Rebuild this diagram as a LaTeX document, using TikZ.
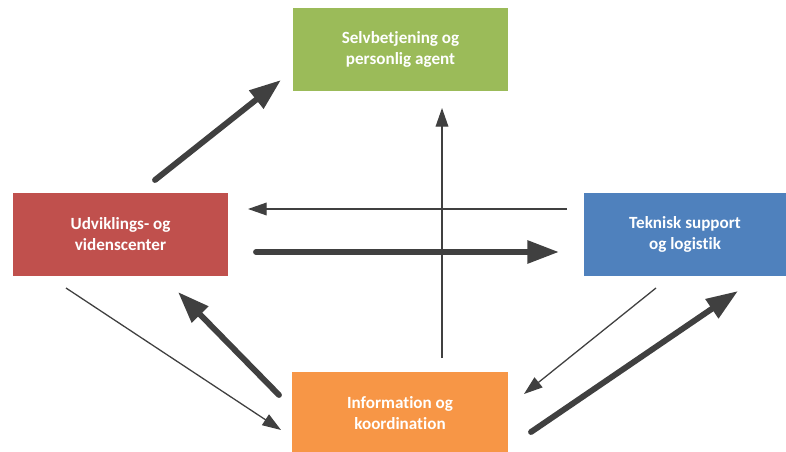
\documentclass[tikz,border=0pt]{standalone}
\usepackage{fontspec}
\setmainfont{Carlito}[Ligatures=NoCommon]
\usetikzlibrary{arrows.meta, positioning}

\definecolor{boxgreen}{HTML}{9BBB59}
\definecolor{boxred}{HTML}{C0504D}
\definecolor{boxblue}{HTML}{4F81BD}
\definecolor{boxorange}{HTML}{F79646}
\definecolor{arrgray}{HTML}{404040}

\begin{document}
\begin{tikzpicture}[
    x=0.03cm, y=-0.03cm,
    nd/.style={rectangle, minimum height=2.49cm, minimum width=6.45cm, inner sep=2pt,
        align=center, text=white, font=\fontsize{14.6}{18}\selectfont\bfseries},
    thinarr/.style={-{Triangle[length=0.56cm, width=0.38cm]}, line width=1.1pt, arrgray},
    thickarr/.style={-{Triangle[length=0.95cm, width=0.66cm]}, line width=5pt, arrgray, line cap=round},
]
\useasboundingbox (0,0) rectangle (786,452);

% Boxes
\node[nd, fill=boxgreen] (self) at (400.5, 49.5) {Selvbetjening og\\personlig agent};
\node[nd, fill=boxred] (udv) at (120.5, 234.5) {Udviklings- og\\videnscenter};
\node[nd, fill=boxblue, minimum width=6.06cm] (tek) at (685, 234.5) {Teknisk support\\og logistik};
\node[nd, fill=boxorange] (info) at (400, 413.5) {Information og\\koordination};

% Arrow end points
\coordinate (a1s) at (155, 180);
\coordinate (a1e) at (281, 80);
\coordinate (a2s) at (442, 358);
\coordinate (a2e) at (442, 108);
\coordinate (a3s) at (567, 209);
\coordinate (a3e) at (248, 209);
\coordinate (a4s) at (256, 252);
\coordinate (a4e) at (559, 252);
\coordinate (a5s) at (66, 288);
\coordinate (a5e) at (281, 430);
\coordinate (a6s) at (279, 395);
\coordinate (a6e) at (178, 292);
\coordinate (a7s) at (656, 288);
\coordinate (a7e) at (524, 394);
\coordinate (a8s) at (531, 432);
\coordinate (a8e) at (738, 291);

% === ARROWS ===
\draw[thinarr] (a2s) -- (a2e);
\draw[thinarr] (a3s) -- (a3e);
\draw[thickarr] (a4s) -- (a4e);
\draw[thickarr] (a1s) -- (a1e);
\draw[thinarr] (a5s) -- (a5e);
\draw[thickarr] (a6s) -- (a6e);
\draw[thinarr] (a7s) -- (a7e);
\draw[thickarr] (a8s) -- (a8e);

\end{tikzpicture}
\end{document}
